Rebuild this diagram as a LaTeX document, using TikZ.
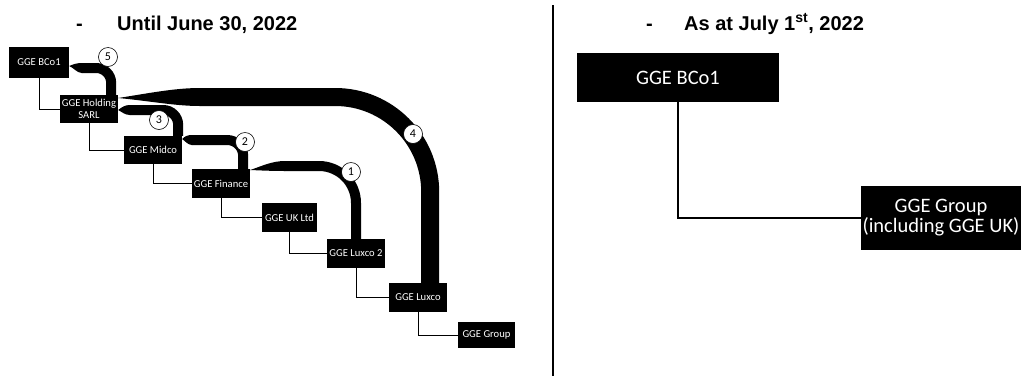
\documentclass[tikz,border=0pt]{standalone}
\usepackage{fontspec}
\setmainfont{Carlito}
\newfontfamily\headfont{Liberation Sans}

\tikzset{
    box/.style={fill=black, text=white, inner sep=0pt, align=center, font=\fontsize{10.6}{12}\selectfont},
    bigbox/.style={box, font=\fontsize{20.5}{20}\selectfont},
    link/.style={draw=black, line width=0.8pt, to path={|- (\tikztotarget)}},
    flow/.style={draw=black, line cap=butt},
    taper/.style={fill=black},
    num/.style={shape=circle, draw=black, fill=white, inner sep=0pt, minimum size=19pt, line width=0.6pt, font=\fontsize{12}{12}\selectfont},
    head/.style={font=\headfont\bfseries\fontsize{20}{22}\selectfont, inner sep=0pt, anchor=base west}
}

\begin{document}
\begin{tikzpicture}[x=1pt, y=-1pt]
    \useasboundingbox (0,0) rectangle (1021,376);
    
    % titles
    \node[head] (dashA) at (76,30)  {-};
    \node[head] (headA) at (117,30) {Until June 30, 2022};
    \node[head] (dashB) at (646,30) {-};
    \node[head] (headB) at (684,30) {As at July 1\textsuperscript{st}, 2022};
    
    \draw[line width=1.2pt] (553,5) -- (553,376);
    
    % before
    \node[box, minimum width=60pt, minimum height=31pt] (bcoA)    at (39,62.5)   {GGE BCo1};
    \node[box, minimum width=58pt, minimum height=28pt] (holding) at (89,109)    {GGE Holding\\SARL};
    \node[box, minimum width=58pt, minimum height=28pt] (midco)   at (153,150)   {GGE Midco};
    \node[box, minimum width=58pt, minimum height=29pt] (finance) at (221,183.5) {GGE Finance};
    \node[box, minimum width=55pt, minimum height=29pt] (ukltd)   at (289.5,217.5) {GGE UK Ltd};
    \node[box, minimum width=58pt, minimum height=29pt] (luxcoB)  at (356,253.5) {GGE Luxco 2};
    \node[box, minimum width=58pt, minimum height=29pt] (luxco)   at (418,297.5) {GGE Luxco};
    \node[box, minimum width=57pt, minimum height=26pt] (groupA)  at (486.5,335) {GGE Group};
    
    \path[link] (bcoA) edge (holding.west);
    \path[link] (holding) edge (midco.west);
    \path[link] (midco) edge (finance.west);
    \path[link] (finance) edge (ukltd.west);
    \path[link] (ukltd) edge (luxcoB.west);
    \path[link] (luxcoB) edge (luxco.west);
    \path[link] (luxco) edge (groupA.west);
    
    % flows
    \coordinate (e5) at ([xshift=-7pt]holding.north east);
    \coordinate (e3) at ([xshift=-4pt]midco.north east);
    \coordinate (e2) at ([xshift=-7pt]finance.north east);
    \coordinate (e4) at ([xshift=-17pt]luxco.north east);
    
    \fill[taper] (bcoA.east |- 0,66) .. controls (74,64) and (77,63) .. (82,63) -- (82,73) .. controls (77,73) and (74,68) .. cycle;
    \draw[flow, line width=10pt, rounded corners=15pt] (81.5,68) -- (e5 |- 0,68) -- (e5);
    
    \fill[taper] (holding.east |- 0,110) .. controls (122,107) and (125,105) .. (130,105) -- (130,115) .. controls (125,115) and (122,112) .. cycle;
    \draw[flow, line width=10pt, rounded corners=15pt] (129.5,110) -- (e3 |- 0,110) -- (e3);
    
    \fill[taper] (midco.east |- 0,139) .. controls (185,136) and (188,135) .. (192,135) -- (192,145) .. controls (188,145) and (185,141) .. cycle;
    \draw[flow, line width=10pt, rounded corners=16pt] (191.5,140) -- (e2 |- 0,140) -- (e2);
    
    \fill[taper] (finance.east |- 0,170) .. controls (262,166) and (272,161) .. (285,161) -- (285,171) .. controls (272,171) and (262,170.5) .. cycle;
    \draw[flow, line width=10pt, rounded corners=37pt] (284.5,166) -- (luxcoB.north |- 0,166) -- (luxcoB.north);
    
    \fill[taper] (holding.east |- 0,98) .. controls (150,93) and (175,88) .. (200,88) -- (200,106) .. controls (175,106) and (150,101) .. cycle;
    \draw[flow, line width=18pt, rounded corners=95pt] (199.5,97) -- (e4 |- 0,97) -- (e4);
    
    \node[num] (n5) at (108,57)  {5};
    \node[num] (n3) at (159,120) {3};
    \node[num] (n2) at (245,142) {2};
    \node[num] (n1) at (351,172) {1};
    \node[num] (n4) at (413,134) {4};
    
    % after
    \node[bigbox, minimum width=202pt, minimum height=49pt] (bcoB)   at (678,77.5) {GGE BCo1};
    \node[bigbox, minimum width=160pt, minimum height=64pt] (groupB) at (941,218)  {GGE Group\\(including GGE UK)};
    
    \path[link, line width=1.2pt] (bcoB) edge (groupB.west);
    
\end{tikzpicture}
\end{document}
